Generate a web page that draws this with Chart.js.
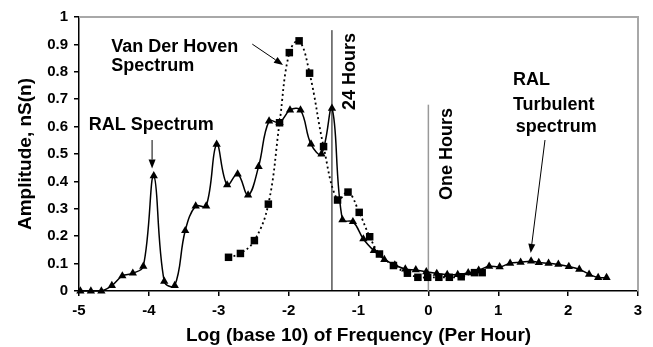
<!DOCTYPE html>
<html>
<head>
<meta charset="utf-8">
<script src="https://cdn.jsdelivr.net/npm/chart.js@4"></script>
<style>
  html, body { margin: 0; padding: 0; background: #fff; }
  #wrap { width: 653px; height: 347px; }
</style>
</head>
<body>
<div id="wrap"><canvas id="chart" width="653" height="347"></canvas></div>
<script>
// RAL spectrum (triangles, solid line)
const ralX = [-4.98, -4.83, -4.68, -4.53, -4.38, -4.23, -4.08, -3.93, -3.78, -3.63,
  -3.48, -3.33, -3.18, -3.03, -2.88, -2.73, -2.58, -2.43, -2.28, -2.13,
  -1.98, -1.83, -1.68, -1.53, -1.38, -1.23, -1.08, -0.93, -0.78, -0.63,
  -0.48, -0.33, -0.18, -0.03, 0.12, 0.27, 0.42, 0.57, 0.72, 0.87,
  1.02, 1.17, 1.32, 1.47, 1.58, 1.72, 1.86, 2.01, 2.16, 2.30, 2.43, 2.55];
const ralY = [0, 0, 0, 0.02, 0.055, 0.065, 0.09, 0.42, 0.035, 0.02,
  0.22, 0.31, 0.31, 0.535, 0.387, 0.427, 0.35, 0.454, 0.62, 0.615,
  0.66, 0.66, 0.536, 0.50, 0.667, 0.26, 0.253, 0.19, 0.147, 0.115,
  0.095, 0.08, 0.077, 0.07, 0.064, 0.06, 0.06, 0.066, 0.076, 0.09,
  0.088, 0.101, 0.105, 0.109, 0.104, 0.101, 0.097, 0.089, 0.079, 0.061, 0.049, 0.049];

// Van Der Hoven spectrum (squares, dotted line)
const vdhX = [-2.86, -2.69, -2.49, -2.29, -2.13, -1.99, -1.85, -1.70, -1.50, -1.30,
  -1.15, -0.99, -0.84, -0.70, -0.50, -0.30, -0.15, -0.01, 0.15, 0.30, 0.47, 0.66, 0.77];
const vdhY = [0.123, 0.137, 0.184, 0.317, 0.614, 0.87, 0.913, 0.795, 0.527, 0.332,
  0.361, 0.287, 0.198, 0.135, 0.093, 0.065, 0.05, 0.05, 0.05, 0.05, 0.052, 0.067, 0.067];

const xTickLabels = ["-5", "-4", "-3", "-2", "-1", "0", "1", "2", "3"];
const yTickLabels = ["0", "0.1", "0.2", "0.3", "0.4", "0.5", "0.6", "0.7", "0.8", "0.9", "1"];

// vertical markers: 24 hours = log10(1/24), one hour = 0
const markX = [-1.38, 0];
const markTop = [0.952, 0.68];

// annotation texts (data coords, alphabetic baseline)
const noteText = ["Van Der Hoven", "Spectrum", "RAL Spectrum", "RAL", "Turbulent", "spectrum", "24 Hours", "One Hours"];
const noteX = [-4.54, -4.54, -4.86, 1.21, 1.21, 1.25, -1.05, 0.34];
const noteY = [0.872, 0.802, 0.586, 0.752, 0.661, 0.582, 0.801, 0.50];
const noteRot = [false, false, false, false, false, false, true, true];

// arrows [x1, y1, x2, y2] in data coords
const arrows = [
  [-2.52, 0.901, -2.08, 0.825],
  [-3.954, 0.551, -3.954, 0.447],
  [1.669, 0.551, 1.464, 0.139]
];

const toPts = (xs, ys) => xs.map((x, i) => ({ x: x, y: ys[i] }));

Chart.defaults.font.family = "'Liberation Sans', Arial, sans-serif";
Chart.defaults.color = "#000";

const decor = {
  id: "decor",
  beforeDatasetsDraw(chart) {
    const { ctx, chartArea: a } = chart;
    ctx.save();
    ctx.strokeStyle = "#a8a8a8";
    ctx.lineWidth = 2;
    ctx.beginPath();
    ctx.moveTo(a.left, a.top);
    ctx.lineTo(a.right, a.top);
    ctx.lineTo(a.right, a.bottom);
    ctx.stroke();
    ctx.restore();
  },
  afterDatasetsDraw(chart) {
    const { ctx } = chart;
    const xs = chart.scales.x, ys = chart.scales.y;
    ctx.save();
    ctx.fillStyle = "#000";
    ctx.font = "bold 18px 'Liberation Sans', Arial, sans-serif";
    ctx.textBaseline = "alphabetic";
    for (let i = 0; i < noteText.length; i++) {
      const px = xs.getPixelForValue(noteX[i]);
      const py = ys.getPixelForValue(noteY[i]);
      if (noteRot[i]) {
        ctx.save();
        ctx.translate(px, py);
        ctx.rotate(-Math.PI / 2);
        ctx.textAlign = "center";
        ctx.fillText(noteText[i], 0, 0);
        ctx.restore();
      } else {
        ctx.textAlign = "left";
        ctx.fillText(noteText[i], px, py);
      }
    }
    ctx.strokeStyle = "#000";
    ctx.lineWidth = 1;
    arrows.forEach((a) => {
      const x1 = xs.getPixelForValue(a[0]), y1 = ys.getPixelForValue(a[1]);
      const x2 = xs.getPixelForValue(a[2]), y2 = ys.getPixelForValue(a[3]);
      const ang = Math.atan2(y2 - y1, x2 - x1);
      const hl = 9, hw = 3.5;
      const bx = x2 - hl * Math.cos(ang), by = y2 - hl * Math.sin(ang);
      ctx.beginPath();
      ctx.moveTo(x1, y1);
      ctx.lineTo(bx, by);
      ctx.stroke();
      ctx.beginPath();
      ctx.moveTo(x2, y2);
      ctx.lineTo(bx + hw * Math.sin(ang), by - hw * Math.cos(ang));
      ctx.lineTo(bx - hw * Math.sin(ang), by + hw * Math.cos(ang));
      ctx.closePath();
      ctx.fill();
    });
    ctx.restore();
  }
};

new Chart(document.getElementById("chart"), {
  type: "scatter",
  data: {
    datasets: [
      {
        label: "RAL Spectrum",
        data: toPts(ralX, ralY),
        showLine: true,
        borderColor: "#000",
        backgroundColor: "#000",
        borderWidth: 1.5,
        tension: 0.4,
        pointStyle: "triangle",
        pointRadius: 4.8,
        pointBorderWidth: 0,
        clip: false
      },
      {
        label: "Van Der Hoven Spectrum",
        data: toPts(vdhX, vdhY),
        showLine: true,
        borderColor: "#000",
        backgroundColor: "#000",
        borderWidth: 1.8,
        borderDash: [2, 3],
        tension: 0.4,
        pointStyle: "rect",
        pointRadius: 5.3,
        pointBorderWidth: 0,
        clip: false
      },
      {
        label: "24 Hours",
        data: [{ x: markX[0], y: 0 }, { x: markX[0], y: markTop[0] }],
        showLine: true,
        borderColor: "#000",
        borderWidth: 1,
        pointRadius: 0
      },
      {
        label: "One Hours",
        data: [{ x: markX[1], y: 0 }, { x: markX[1], y: markTop[1] }],
        showLine: true,
        borderColor: "#999",
        borderWidth: 1.5,
        pointRadius: 0
      }
    ]
  },
  options: {
    responsive: false,
    animation: false,
    devicePixelRatio: 1,
    layout: { padding: { left: 0, top: 17, right: 15, bottom: 0 } },
    plugins: {
      legend: { display: false },
      tooltip: { enabled: false }
    },
    scales: {
      x: {
        type: "linear",
        min: -5,
        max: 3,
        afterFit: (s) => { s.height = 56; },
        grid: { drawOnChartArea: false, drawTicks: true, tickLength: 5, color: "#000", lineWidth: 1.5 },
        border: { color: "#000", width: 1.5 },
        ticks: {
          stepSize: 1,
          padding: 6,
          font: { size: 15, weight: "bold" },
          callback: (v, i) => xTickLabels[i]
        },
        title: {
          display: true,
          text: "Log (base 10) of Frequency (Per Hour)",
          font: { size: 19, weight: "bold", lineHeight: 1 },
          padding: { top: 0, bottom: 2 }
        }
      },
      y: {
        min: 0,
        max: 1,
        afterFit: (s) => { s.width = 79; },
        grid: { drawOnChartArea: false, drawTicks: true, tickLength: 5, color: "#000", lineWidth: 1.5 },
        border: { color: "#000", width: 1.5 },
        ticks: {
          stepSize: 0.1,
          padding: 6,
          font: { size: 15, weight: "bold" },
          callback: (v, i) => yTickLabels[i]
        },
        title: {
          display: true,
          text: "Amplitude, nS(n)",
          font: { size: 19, weight: "bold", lineHeight: 1 },
          padding: { top: 16, bottom: 0 }
        }
      }
    }
  },
  plugins: [decor]
});
</script>
</body>
</html>
